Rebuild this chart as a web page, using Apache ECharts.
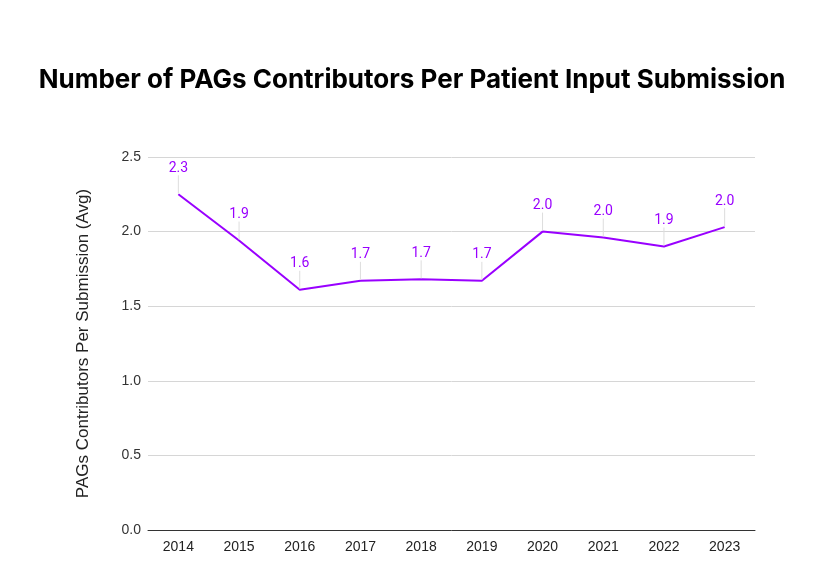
<!DOCTYPE html>
<html><head><meta charset="utf-8">
<script src="https://cdn.jsdelivr.net/npm/echarts@6/dist/echarts.min.js"></script>
<style>html,body{margin:0;padding:0;background:#fff}#c{width:824px;height:588px}</style>
</head><body><div id="c"></div>
<script>
const years = ['2014','2015','2016','2017','2018','2019','2020','2021','2022','2023'];
const contributors = [2.25, 1.94, 1.61, 1.67, 1.68, 1.67, 2.0, 1.96, 1.90, 2.03];
const titleText = 'Number of PAGs Contributors Per Patient Input Submission';
const yAxisName = 'PAGs Contributors Per Submission (Avg)';

const chart = echarts.init(document.getElementById('c'));
chart.setOption({
  backgroundColor: '#fff',
  animation: false,
  title: {
    text: titleText, left: 'center', top: 62,
    textStyle: {fontFamily: 'Inter', fontWeight: 'bold', fontSize: 26, color: '#000'}
  },
  grid: {left: 148, right: 69, top: 157, bottom: 58},
  xAxis: {
    type: 'category', data: years, boundaryGap: true,
    axisLine: {lineStyle: {color: '#333', width: 1}},
    axisTick: {show: false},
    axisLabel: {color: '#222', fontFamily: 'Liberation Sans', fontSize: 14, margin: 10}
  },
  yAxis: {
    type: 'value', min: 0, max: 2.5, interval: 0.5,
    name: yAxisName, nameLocation: 'middle', nameGap: 56, nameRotate: 90,
    nameTextStyle: {color: '#222', fontFamily: 'Liberation Sans', fontSize: 17},
    axisLine: {show: false}, axisTick: {show: false},
    axisLabel: {color: '#333', fontFamily: 'Liberation Sans', fontSize: 14, margin: 7,
      formatter: v => v.toFixed(1)},
    splitLine: {lineStyle: {color: '#d6d6d6', width: 1}}
  },
  series: [{
    type: 'line', data: contributors, symbol: 'circle', symbolSize: 2, showSymbol: true,
    itemStyle: {color: 'rgba(153,0,255,0)', borderWidth: 0},
    lineStyle: {color: '#9900ff', width: 2},
    label: {show: true, position: 'top', distance: 4, color: '#9900ff', opacity: 1,
      fontFamily: 'Roboto', fontSize: 14, formatter: p => p.value.toFixed(1)},
    labelLayout: {dy: -14},
    labelLine: {show: true, lineStyle: {color: '#dddddd', width: 1, opacity: 1}}
  }]
});
</script></body></html>
